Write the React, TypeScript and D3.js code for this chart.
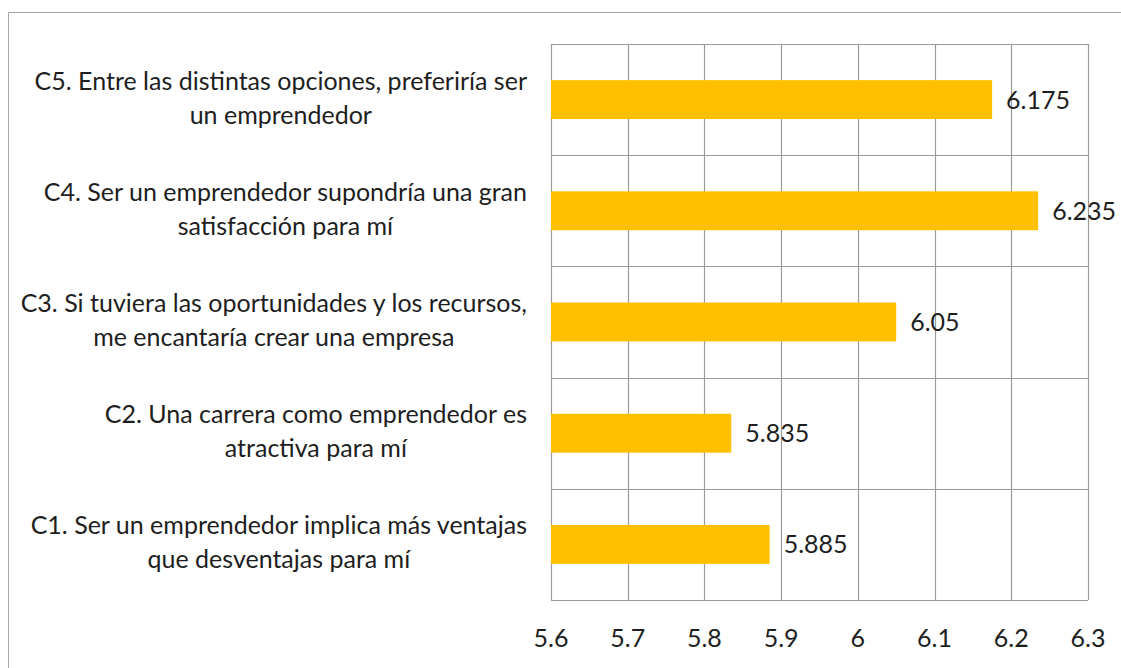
import React, { useEffect, useRef } from "react";
import * as d3 from "d3";

const categories = ["C1", "C2", "C3", "C4", "C5"];
const labelLines = [
  ["C1. Ser un emprendedor implica más ventajas", "que desventajas para mí"],
  ["C2. Una carrera como emprendedor es", "atractiva para mí"],
  ["C3. Si tuviera las oportunidades y los recursos,", "me encantaría crear una empresa"],
  ["C4. Ser un emprendedor supondría una gran", "satisfacción para mí"],
  ["C5. Entre las distintas opciones, preferiría ser", "un emprendedor"],
];
const values = [5.885, 5.835, 6.05, 6.235, 6.175];
const valueLabels = ["5.885", "5.835", "6.05", "6.235", "6.175"];
const tickValues = [5.6, 5.7, 5.8, 5.9, 6.0, 6.1, 6.2, 6.3];
const tickLabels = ["5.6", "5.7", "5.8", "5.9", "6", "6.1", "6.2", "6.3"];

const W = 1121;
const H = 668;
const FONT = "Lato, 'Open Sans', sans-serif";
const FS = 25;
const TXT = "#1e1e1e";
const GRID = "#9a9a9a";

export default function App() {
  const ref = useRef<SVGSVGElement | null>(null);

  useEffect(() => {
    const svg = d3.select(ref.current);
    svg.selectAll("*").remove();

    const left = 551, right = 1088, top = 44, bottom = 600;
    const x = d3.scaleLinear().domain([5.6, 6.3]).range([left, right]);
    const order = categories.slice().reverse(); // C5 at top
    const yBand = d3.scaleBand().domain(order).range([top, bottom]).paddingInner(0.65).paddingOuter(0.325);
    const yRow = d3.scaleBand().domain(order).range([top, bottom]).padding(0);

    // outer frame
    svg.append("line").attr("x1", 8.5).attr("x2", W).attr("y1", 12.5).attr("y2", 12.5).attr("stroke", "#a6a6a6").attr("stroke-width", 1);
    svg.append("line").attr("x1", 8.5).attr("x2", 8.5).attr("y1", 12.5).attr("y2", H).attr("stroke", "#a6a6a6").attr("stroke-width", 1);

    // vertical gridlines
    svg.append("g").selectAll("line").data(tickValues).join("line")
      .attr("x1", (d) => Math.round(x(d)) + 0.5).attr("x2", (d) => Math.round(x(d)) + 0.5)
      .attr("y1", top).attr("y2", bottom)
      .attr("stroke", GRID).attr("stroke-width", 1.2);

    // horizontal gridlines (category boundaries)
    const bounds = order.map((c) => yRow(c) as number).concat([bottom]);
    svg.append("g").selectAll("line").data(bounds).join("line")
      .attr("x1", left).attr("x2", right)
      .attr("y1", (d) => Math.round(d) + 0.5).attr("y2", (d) => Math.round(d) + 0.5)
      .attr("stroke", GRID).attr("stroke-width", 1.2);

    // bars
    svg.append("g").selectAll("rect").data(categories).join("rect")
      .attr("x", x(5.6))
      .attr("y", (c) => yBand(c) as number)
      .attr("width", (c, i) => x(values[i]) - x(5.6))
      .attr("height", yBand.bandwidth())
      .attr("fill", "#FFC000");

    // value labels
    svg.append("g").selectAll("text").data(categories).join("text")
      .attr("x", (c, i) => x(values[i]) + 14)
      .attr("y", (c) => (yRow(c) as number) + yRow.bandwidth() / 2 + 9)
      .attr("font-family", FONT).attr("font-size", FS).attr("fill", TXT)
      .text((c, i) => valueLabels[i]);

    // tick labels
    svg.append("g").selectAll("text").data(tickValues).join("text")
      .attr("x", (d) => x(d)).attr("y", 647)
      .attr("text-anchor", "middle")
      .attr("font-family", FONT).attr("font-size", FS).attr("fill", TXT)
      .text((d, i) => tickLabels[i]);

    // category labels: block right-aligned, lines centered
    const labelRight = 527;
    categories.forEach((c, i) => {
      const cy = (yRow(c) as number) + yRow.bandwidth() / 2;
      const lines = labelLines[i];
      const g = svg.append("g");
      const t1 = g.append("text")
        .attr("x", labelRight).attr("y", cy - 10)
        .attr("text-anchor", "end")
        .attr("font-family", FONT).attr("font-size", FS).attr("fill", TXT)
        .text(lines[0]);
      const w1 = (t1.node() as SVGTextElement).getComputedTextLength();
      g.append("text")
        .attr("x", labelRight - w1 / 2).attr("y", cy + 24)
        .attr("text-anchor", "middle")
        .attr("font-family", FONT).attr("font-size", FS).attr("fill", TXT)
        .text(lines[1]);
    });
  }, []);

  return (
    <svg
      ref={ref}
      width={W}
      height={H}
      style={{ position: "absolute", left: 0, top: 0, background: "#fff" }}
    />
  );
}
